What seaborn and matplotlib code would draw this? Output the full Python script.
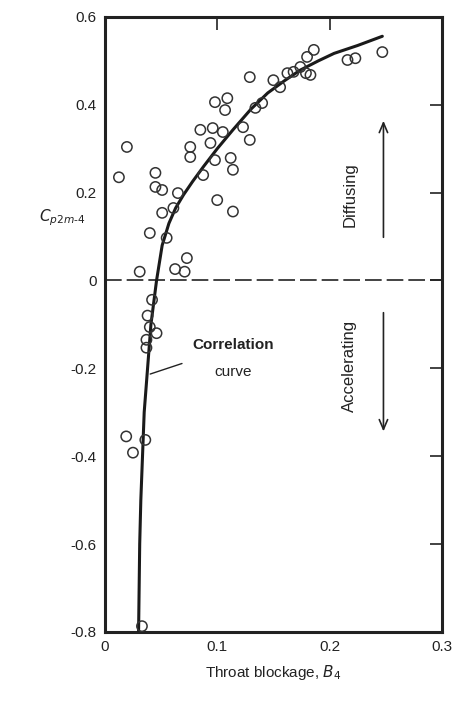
import matplotlib
matplotlib.use("Agg")
import matplotlib.pyplot as plt
import seaborn as sns
import pandas as pd

# measured points: throat blockage B4 and pressure coefficient
blockage = [0.0125, 0.0196, 0.045, 0.045, 0.051, 0.065, 0.051, 0.061, 0.040, 0.055,
            0.031, 0.0625, 0.073, 0.071, 0.042, 0.038, 0.040, 0.046, 0.037, 0.037,
            0.019, 0.036, 0.025, 0.033, 0.100, 0.114, 0.098, 0.109, 0.107, 0.085,
            0.096, 0.105, 0.076, 0.094, 0.076, 0.098, 0.112, 0.114, 0.0875, 0.123,
            0.129, 0.129, 0.134, 0.140, 0.150, 0.156, 0.1625, 0.168, 0.174, 0.179,
            0.183, 0.186, 0.180, 0.216, 0.223, 0.247]
cp = [0.235, 0.304, 0.245, 0.213, 0.206, 0.199, 0.154, 0.165, 0.108, 0.097,
      0.020, 0.026, 0.051, 0.020, -0.044, -0.080, -0.106, -0.120, -0.135, -0.153,
      -0.355, -0.363, -0.392, -0.787, 0.183, 0.157, 0.406, 0.415, 0.388, 0.343,
      0.347, 0.338, 0.304, 0.313, 0.281, 0.274, 0.279, 0.252, 0.240, 0.349,
      0.320, 0.463, 0.393, 0.404, 0.456, 0.440, 0.472, 0.475, 0.486, 0.472,
      0.468, 0.525, 0.509, 0.502, 0.506, 0.520]

# correlation curve
curve_b = [0.030, 0.031, 0.032, 0.0335, 0.035, 0.038, 0.041, 0.046, 0.051, 0.057,
           0.063, 0.070, 0.078, 0.088, 0.100, 0.114, 0.130, 0.145, 0.160, 0.174,
           0.190, 0.204, 0.225, 0.247]
curve_cp = [-0.80, -0.60, -0.50, -0.40, -0.30, -0.20, -0.10, 0.0, 0.08, 0.13,
            0.165, 0.195, 0.225, 0.26, 0.30, 0.343, 0.39, 0.427, 0.455, 0.479,
            0.50, 0.517, 0.535, 0.556]

xticks = [0, 0.1, 0.2, 0.3]
xticklabels = ["0", "0.1", "0.2", "0.3"]
yticks = [-0.8, -0.6, -0.4, -0.2, 0, 0.2, 0.4, 0.6]
yticklabels = ["-0.8", "-0.6", "-0.4", "-0.2", "0", "0.2", "0.4", "0.6"]

sns.set_style("white")
plt.rcParams['font.family'] = ['Liberation Sans', 'DejaVu Sans']

fig = plt.figure(figsize=(4.56, 7.06), dpi=100)
ax = fig.add_axes([0.230, 0.105, 0.739, 0.871])

pts = pd.DataFrame({"B4": blockage, "Cp": cp})
crv = pd.DataFrame({"B4": curve_b, "Cp": curve_cp})

ax.axhline(0, color="#222222", lw=1.2, dashes=(10, 3), zorder=1)
sns.lineplot(data=crv, x="B4", y="Cp", sort=False, color="#1a1a1a", lw=2.2, ax=ax, zorder=3)
sns.scatterplot(data=pts, x="B4", y="Cp", marker="o", s=55, facecolor="none",
                edgecolor="#333333", linewidth=1.1, ax=ax, zorder=4)

ax.set_xlim(0, 0.3)
ax.set_ylim(-0.8, 0.6)
ax.set_xticks(xticks)
ax.set_xticklabels(xticklabels)
ax.set_yticks(yticks)
ax.set_yticklabels(yticklabels)
ax.tick_params(direction="in", length=9, width=1.2, top=True, right=True,
               labelsize=11, colors="#222222", pad=6)
for s in ax.spines.values():
    s.set_linewidth(2.2)
    s.set_color("#222222")

ax.set_xlabel("Throat blockage, $B_4$", fontsize=11, color="#222222", labelpad=6)
ax.set_ylabel("")
fig.text(0.136, 0.691, "$C_{p2m\\text{-}4}$", fontsize=11, ha="center", va="center", color="#222222")

# annotations
ax.text(0.114, -0.147, "Correlation", fontsize=11, fontweight="bold",
        ha="center", va="center", color="#222222")
ax.text(0.114, -0.208, "curve", fontsize=11,
        ha="center", va="center", color="#222222")
ax.annotate("", xy=(0.038, -0.215), xytext=(0.071, -0.187),
            arrowprops=dict(arrowstyle="-", color="#222222", lw=1.0))
ax.text(0.218, 0.195, "Diffusing", rotation=90, fontsize=12, ha="center", va="center", color="#222222")
ax.text(0.218, -0.195, "Accelerating", rotation=90, fontsize=12, ha="center", va="center", color="#222222")
ax.annotate("", xy=(0.248, 0.37), xytext=(0.248, 0.092),
            arrowprops=dict(arrowstyle="->,head_length=0.7,head_width=0.3", color="#222222", lw=1.2))
ax.annotate("", xy=(0.248, -0.35), xytext=(0.248, -0.067),
            arrowprops=dict(arrowstyle="->,head_length=0.7,head_width=0.3", color="#222222", lw=1.2))

fig.savefig("out.png", dpi=100, facecolor="white")
